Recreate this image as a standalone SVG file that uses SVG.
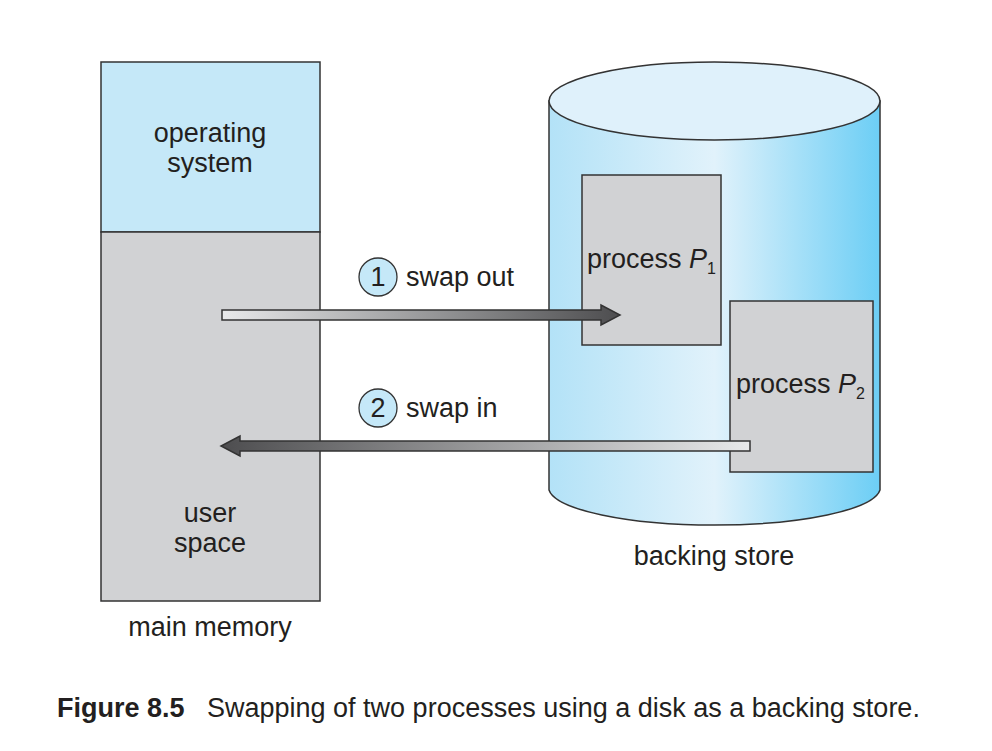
<svg xmlns="http://www.w3.org/2000/svg" width="992" height="751" viewBox="0 0 992 751">
<defs>
<linearGradient id="cyl" x1="549" y1="0" x2="880" y2="0" gradientUnits="userSpaceOnUse">
<stop offset="0" stop-color="#b3e2f7"/>
<stop offset="0.5" stop-color="#e1f2fb"/>
<stop offset="1" stop-color="#6ccef5"/>
</linearGradient>
<linearGradient id="arrR" x1="0" y1="0" x2="1" y2="0">
<stop offset="0" stop-color="#e8e9ea"/>
<stop offset="1" stop-color="#4d4d4f"/>
</linearGradient>
<linearGradient id="arrL" x1="1" y1="0" x2="0" y2="0">
<stop offset="0" stop-color="#e8e9ea"/>
<stop offset="1" stop-color="#4d4d4f"/>
</linearGradient>
<style>
text{font-family:"Liberation Sans",Arial,sans-serif;font-size:27px;fill:#231f20}
.c{text-anchor:middle}
.box{stroke:#333;stroke-width:1.5}
.gray{fill:#d1d2d4}
.lb{fill:#c5e8f8}
.circ{fill:#c5e8f8;stroke:#333;stroke-width:1.3}
.arr{stroke:#333;stroke-width:1.5}
.sub{font-size:16px}
</style>
</defs>
<rect width="992" height="751" fill="#fff"/>

<g id="main-memory">
<rect x="101" y="62" width="219" height="170" class="box lb"/>
<rect x="101" y="232" width="219" height="369" class="box gray"/>
<text x="210" y="142" class="c">operating</text>
<text x="210" y="172" class="c">system</text>
<text x="210" y="522" class="c">user</text>
<text x="210" y="552" class="c">space</text>
<text x="210" y="636" class="c">main memory</text>
</g>

<g id="backing-store">
<path d="M549,101 L549,490 A166,38 0 0 0 880,490 L880,101 Z" fill="url(#cyl)" class="box"/>
<ellipse cx="714.5" cy="101" rx="165.5" ry="39" fill="#dff1fb" class="box"/>
<text x="714" y="565" class="c">backing store</text>
</g>

<g id="process-p1">
<rect x="582" y="175" width="139" height="170" class="box gray"/>
<text x="587" y="268">process <tspan font-style="italic">P</tspan><tspan class="sub" dy="6">1</tspan></text>
</g>

<g id="process-p2">
<rect x="730" y="301" width="143" height="171" class="box gray"/>
<text x="736" y="393">process <tspan font-style="italic">P</tspan><tspan class="sub" dy="6">2</tspan></text>
</g>

<g id="connectors">
<g id="swap-out">
<path d="M222,310 L601,310 L601,305 L620,315 L601,325 L601,320 L222,320 Z" fill="url(#arrR)" class="arr"/>
<circle cx="378" cy="277" r="19" class="circ"/>
<text x="378" y="286" class="c">1</text>
<text x="406" y="286">swap out</text>
</g>
<g id="swap-in">
<path d="M750,441 L240,441 L240,436 L221,446 L240,456 L240,451 L750,451 Z" fill="url(#arrL)" class="arr"/>
<circle cx="378" cy="408" r="19" class="circ"/>
<text x="378" y="417" class="c">2</text>
<text x="406" y="417">swap in</text>
</g>
</g>

<g id="caption">
<text x="57" y="717"><tspan font-weight="bold">Figure 8.5</tspan><tspan x="207">Swapping of two processes using a disk as a backing store.</tspan></text>
</g>
</svg>
